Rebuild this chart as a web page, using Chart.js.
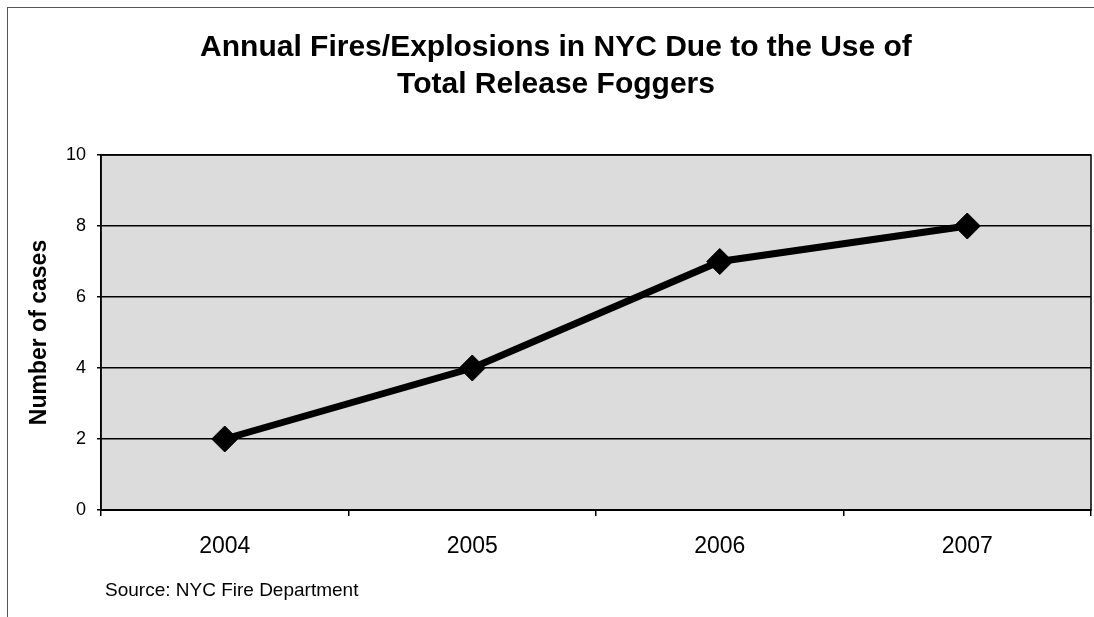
<!DOCTYPE html>
<html lang="en">
<head>
  <meta charset="UTF-8" />
  <title>Annual Fires/Explosions in NYC</title>
  <script src="https://cdn.jsdelivr.net/npm/chart.js"></script>
  <style>
    * {
      box-sizing: border-box;
      margin: 0;
      padding: 0;
    }

    body {
      background: #fff;
      width: 1094px;
      height: 617px;
      position: relative;
      overflow: hidden;
      font-family: 'Liberation Sans', Arial, sans-serif;
    }

    .frame {
      position: absolute;
      left: 7px;
      top: 7px;
      width: 1087px;
      height: 610px;
      border-left: 1px solid #555;
      border-top: 1px solid #555;
    }

    .chart-box {
      position: absolute;
      left: 0;
      top: 0;
      width: 1094px;
      height: 617px;
      overflow: hidden;
    }

    .title {
      position: absolute;
      left: 0;
      top: 27px;
      width: 1112px;
      text-align: center;
      font-size: 30px;
      line-height: 37px;
      font-weight: bold;
      color: #000;
    }

    .source {
      position: absolute;
      left: 105px;
      top: 579px;
      font-size: 19px;
      color: #000;
    }
  </style>
</head>
<body>

  <div class="frame"></div>
  <div class="chart-box">
    <canvas id="fogChart" width="1105" height="617"></canvas>
  </div>
  <div class="title" id="chartTitle"></div>
  <div class="source">Source: NYC Fire Department</div>

  <script>
    const years = ['2004', '2005', '2006', '2007'];
    const cases = [2, 4, 7, 8];
    const titleLines = ['Annual Fires/Explosions in NYC Due to the Use of', 'Total Release Foggers'];

    document.getElementById('chartTitle').innerHTML = titleLines.join('<br>');

    // grey backing of the plot, then a frame round it
    const plotBox = {
      id: 'plotBox',
      beforeDraw(chart) {
        const a = chart.chartArea;
        const ctx = chart.ctx;
        ctx.save();
        ctx.fillStyle = '#dcdcdc';
        ctx.fillRect(a.left, a.top, a.right - a.left, a.bottom - a.top);
        ctx.restore();
      },
      afterDatasetsDraw(chart) {
        const a = chart.chartArea;
        const ctx = chart.ctx;
        ctx.save();
        ctx.strokeStyle = '#000';
        ctx.lineWidth = 1.5;
        ctx.strokeRect(a.left, a.top, a.right - a.left, a.bottom - a.top);
        ctx.restore();
      }
    };

    const ctx = document.getElementById('fogChart').getContext('2d');
    new Chart(ctx, {
      type: 'line',
      data: {
        labels: years,
        datasets: [{
          label: 'Number of cases',
          data: cases,
          borderColor: '#000',
          backgroundColor: '#000',
          borderWidth: 7,
          pointStyle: 'rectRot',
          pointRadius: 13,
          pointBorderWidth: 1,
          tension: 0
        }]
      },
      options: {
        responsive: false,
        animation: false,
        layout: {
          padding: { left: 20, right: 0, top: 155, bottom: 0 }
        },
        plugins: {
          legend: { display: false },
          tooltip: { enabled: false },
          title: { display: false }
        },
        scales: {
          x: {
            offset: true,
            grid: {
              offset: true,
              drawOnChartArea: false,
              drawTicks: true,
              tickLength: 6,
              color: '#000',
              lineWidth: 1.5
            },
            border: { color: '#000', width: 2 },
            ticks: {
              color: '#000',
              padding: 17,
              font: { family: "'Liberation Sans', Arial, sans-serif", size: 23 }
            },
            afterFit(scale) { scale.height = 107; }
          },
          y: {
            min: 0,
            max: 10,
            ticks: {
              stepSize: 2,
              color: '#000',
              padding: 11,
              font: { family: "'Liberation Sans', Arial, sans-serif", size: 18 }
            },
            grid: {
              color: '#000',
              lineWidth: 1.5,
              tickLength: 4
            },
            border: { color: '#000', width: 1.5 },
            title: {
              display: true,
              text: 'Number of cases',
              color: '#000',
              padding: { top: 6, bottom: 0 },
              font: { family: "'Liberation Sans', Arial, sans-serif", size: 23, weight: 'bold' }
            },
            afterFit(scale) { scale.width = 81; }
          }
        }
      },
      plugins: [plotBox]
    });
  </script>

</body>
</html>
